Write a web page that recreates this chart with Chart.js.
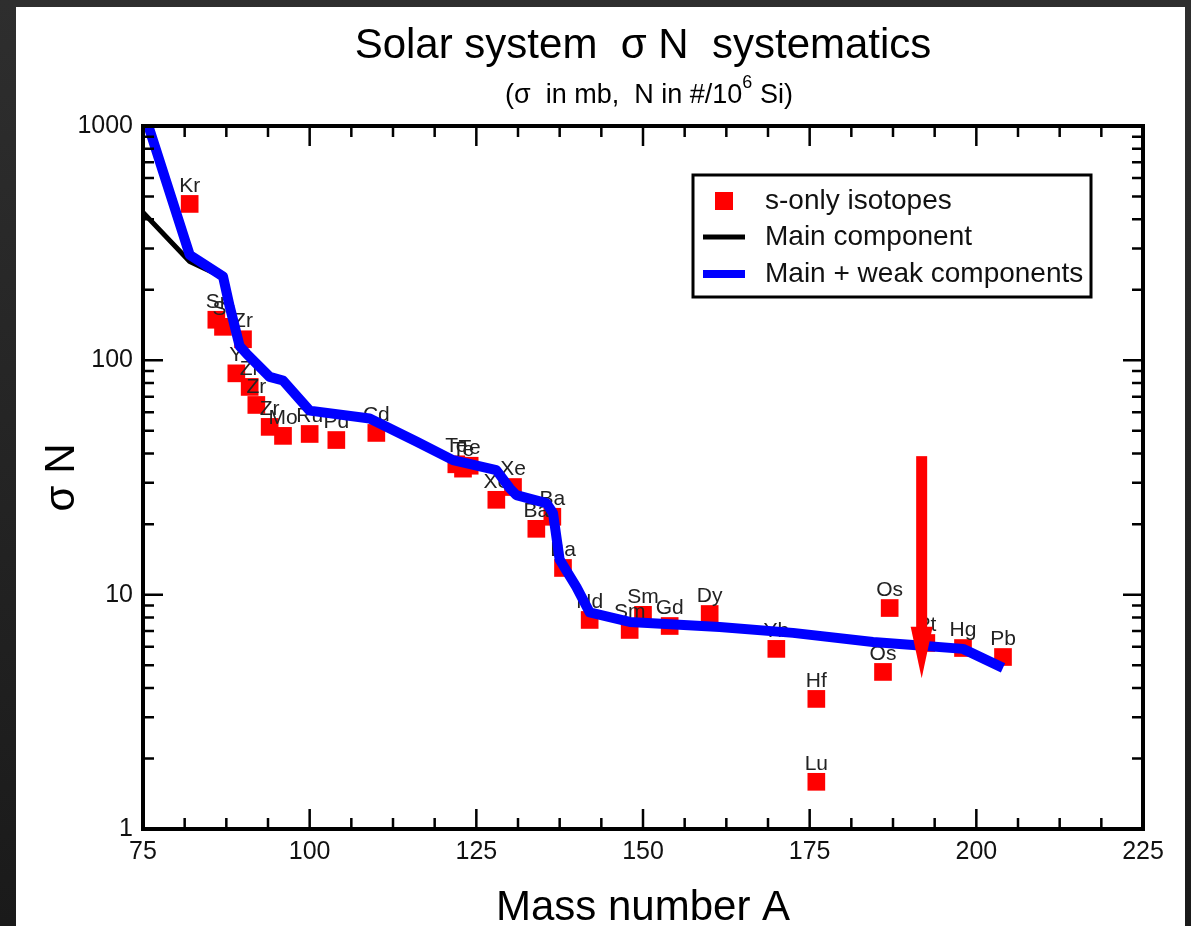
<!DOCTYPE html>
<html>
<head>
<meta charset="utf-8">
<script src="https://cdn.jsdelivr.net/npm/chart.js@4"></script>
<style>
  html, body { margin: 0; padding: 0; width: 1191px; height: 926px; overflow: hidden;
    background: linear-gradient(#2e2e2e, #1a1a1a); }
  #sheet { position: absolute; left: 16px; top: 7px; width: 1169px; height: 919px; background: #fff; }
  #chart { display: block; }
</style>
</head>
<body>
<div id="sheet"><canvas id="chart" width="1169" height="919"></canvas></div>
<script>
// s-only isotopes
const isotopeNames = ['Kr', 'Sr', 'Sr', 'Y', 'Zr', 'Zr', 'Zr', 'Zr', 'Mo', 'Ru', 'Pd', 'Cd',
  'Te', 'Te', 'Te', 'Xe', 'Xe', 'Ba', 'Ba', 'Ba', 'Nd', 'Sm', 'Sm', 'Gd', 'Dy', 'Yb',
  'Hf', 'Lu', 'Os', 'Os', 'Pt', 'Hg', 'Pb'];
const isotopeA = [82, 86, 87, 89, 90, 91, 92, 94, 96, 100, 104, 110,
  122, 123, 124, 128, 130.5, 134, 136.4, 138, 142, 148, 150, 154, 160, 170,
  176, 176, 186, 187, 192.5, 198, 204];
const isotopeSigmaN = [465, 149, 139, 88, 123, 77, 64.5, 52, 47.6, 48.5, 45.7, 49,
  36, 34.5, 35.5, 25.4, 28.8, 19.1, 21.5, 13.0, 7.8, 7.07, 8.2, 7.35, 8.27, 5.87,
  3.59, 1.59, 4.68, 8.77, 6.22, 5.92, 5.42];

// main component curve
const mainA = [75, 82, 87];
const mainSigmaN = [428, 264, 226];

// main + weak components curve
const weakA = [75, 82, 87, 88, 89.5, 90.5, 94, 96, 100, 109, 116, 121.5, 128, 130, 131,
  135.5, 136.5, 137.5, 140, 142, 148, 161.5, 172.5, 184.5, 190.5, 198, 204];
const weakSigmaN = [1180, 282, 228, 170, 115, 107, 85, 82, 61, 56.5, 45, 37.5, 34, 28.5, 26.6,
  24.6, 22.3, 14.1, 10.8, 8.4, 7.65, 7.28, 6.87, 6.28, 6.1, 5.87, 4.87];

// red arrow (A, from sigmaN, head start, tip)
const arrowA = 191.8;
const arrowFrom = 39;
const arrowHeadBase = 7.3;
const arrowTip = 4.4;

const xTickLabels = [75, 100, 125, 150, 175, 200, 225];
const yTickLabels = [1, 10, 100, 1000];

const FONT = '"Liberation Sans", Arial, sans-serif';

const toPoints = (xs, ys) => xs.map((a, i) => ({ x: a, y: ys[i] }));

// labels over the squares, drawn under the lines
const isotopeLabelPlugin = {
  id: 'isotopeLabels',
  afterDatasetDraw(chart, args) {
    if (args.index !== 0) return;
    const ctx = chart.ctx;
    ctx.save();
    ctx.font = '21px ' + FONT;
    ctx.fillStyle = '#222';
    ctx.textAlign = 'center';
    ctx.textBaseline = 'middle';
    args.meta.data.forEach((el, i) => ctx.fillText(isotopeNames[i], el.x, el.y - 18));
    ctx.restore();
  }
};

const arrowPlugin = {
  id: 'arrow',
  afterDatasetsDraw(chart) {
    const { ctx, scales: { x, y } } = chart;
    const px = x.getPixelForValue(arrowA);
    const y0 = y.getPixelForValue(arrowFrom);
    const y1 = y.getPixelForValue(arrowHeadBase);
    const y2 = y.getPixelForValue(arrowTip);
    ctx.save();
    ctx.fillStyle = '#ff0000';
    ctx.fillRect(px - 5.5, y0, 11, y1 - y0 + 1);
    ctx.beginPath();
    ctx.moveTo(px - 11, y1);
    ctx.lineTo(px + 11, y1);
    ctx.lineTo(px, y2);
    ctx.closePath();
    ctx.fill();
    ctx.restore();
  }
};

// frame with inward ticks on all four sides, legend, subtitle
const framePlugin = {
  id: 'frame',
  afterDraw(chart) {
    const { ctx, chartArea: a, scales: { x, y } } = chart;
    ctx.save();
    ctx.strokeStyle = '#000';
    ctx.lineWidth = 2.5;
    ctx.beginPath();
    x.ticks.forEach(t => {
      const px = x.getPixelForValue(t.value);
      const len = t.value % 25 === 0 ? 20 : 11;
      ctx.moveTo(px, a.bottom); ctx.lineTo(px, a.bottom - len);
      ctx.moveTo(px, a.top); ctx.lineTo(px, a.top + len);
    });
    const e0 = Math.round(Math.log10(y.min)), e1 = Math.round(Math.log10(y.max));
    for (let e = e0; e <= e1; e++) {
      for (let k = 1; k <= 9; k++) {
        const v = k * Math.pow(10, e);
        if (v > y.max) break;
        const py = y.getPixelForValue(v);
        const len = k === 1 ? 20 : 11;
        ctx.moveTo(a.left, py); ctx.lineTo(a.left + len, py);
        ctx.moveTo(a.right, py); ctx.lineTo(a.right - len, py);
      }
    }
    ctx.stroke();
    ctx.lineWidth = 4;
    ctx.strokeRect(a.left, a.top, a.width, a.height);

    // legend
    const lw = 398, lh = 122;
    const lx = a.right - 52 - lw, ly = a.top + 49;
    ctx.fillStyle = '#fff';
    ctx.fillRect(lx, ly, lw, lh);
    ctx.lineWidth = 3;
    ctx.strokeRect(lx, ly, lw, lh);
    const ds = chart.data.datasets;
    const rows = [26, 62, 99];
    ctx.fillStyle = ds[0].backgroundColor;
    ctx.fillRect(lx + 22, ly + rows[0] - 9, 18, 18);
    [1, 2].forEach(i => {
      ctx.strokeStyle = ds[i].borderColor;
      ctx.lineWidth = i === 1 ? 5 : 8;
      ctx.beginPath();
      ctx.moveTo(lx + 10, ly + rows[i]);
      ctx.lineTo(lx + 52, ly + rows[i]);
      ctx.stroke();
    });
    ctx.font = '28px ' + FONT;
    ctx.fillStyle = '#111';
    ctx.textBaseline = 'middle';
    ctx.textAlign = 'left';
    ds.forEach((d, i) => ctx.fillText(d.label, lx + 72, ly + rows[i]));

    // subtitle with superscript
    const cx = (a.left + a.right) / 2 + 6, cy = 89;
    const partA = '(σ  in mb,  N in #/10', sup = '6', partB = ' Si)';
    ctx.font = '27px ' + FONT;
    const wA = ctx.measureText(partA).width, wB = ctx.measureText(partB).width;
    ctx.font = '18px ' + FONT;
    const wS = ctx.measureText(sup).width;
    let sx = cx - (wA + wS + wB) / 2;
    ctx.fillStyle = '#000';
    ctx.font = '27px ' + FONT;
    ctx.fillText(partA, sx, cy);
    ctx.font = '18px ' + FONT;
    ctx.fillText(sup, sx + wA, cy - 13);
    ctx.font = '27px ' + FONT;
    ctx.fillText(partB, sx + wA + wS, cy);
    ctx.restore();
  }
};

new Chart(document.getElementById('chart'), {
  type: 'scatter',
  data: {
    datasets: [{
      label: 's-only isotopes',
      data: toPoints(isotopeA, isotopeSigmaN),
      pointStyle: 'rect',
      pointRadius: 12.5,
      backgroundColor: '#ff0000',
      borderWidth: 0,
      order: 3
    }, {
      label: 'Main component',
      data: toPoints(mainA, mainSigmaN),
      showLine: true,
      borderColor: '#000000',
      borderWidth: 5,
      pointRadius: 0,
      borderJoinStyle: 'round',
      order: 2
    }, {
      label: 'Main + weak components',
      data: toPoints(weakA, weakSigmaN),
      showLine: true,
      borderColor: '#0000ff',
      borderWidth: 10,
      pointRadius: 0,
      borderJoinStyle: 'round',
      order: 1
    }]
  },
  options: {
    responsive: false,
    animation: false,
    layout: { padding: { left: 0, right: 42, top: 0, bottom: 0 } },
    plugins: {
      legend: { display: false },
      tooltip: { enabled: false },
      title: {
        display: true,
        fullSize: false,
        text: 'Solar system  σ N  systematics',
        color: '#000',
        font: { family: FONT, size: 42, weight: 'normal', lineHeight: 1.2 },
        padding: { top: 14, bottom: 54.6 }
      }
    },
    scales: {
      x: {
        type: 'linear',
        min: 75,
        max: 225,
        grid: { display: false, drawTicks: false },
        border: { display: false },
        ticks: {
          stepSize: 6.25,
          autoSkip: false,
          maxRotation: 0,
          padding: 8,
          color: '#111',
          font: { family: FONT, size: 25 },
          callback: v => xTickLabels.includes(v) ? String(v) : ''
        },
        title: {
          display: true,
          text: 'Mass number A',
          color: '#000',
          font: { family: FONT, size: 42, lineHeight: 0.86 },
          padding: 0
        },
        afterFit: s => { s.height = 97; }
      },
      y: {
        type: 'logarithmic',
        min: 1,
        max: 1000,
        grid: { display: false, drawTicks: false },
        border: { display: false },
        ticks: {
          autoSkip: false,
          padding: 10,
          color: '#111',
          font: { family: FONT, size: 25 },
          callback: v => yTickLabels.includes(v) ? String(v) : ''
        },
        title: {
          display: true,
          text: 'σ N',
          color: '#000',
          font: { family: FONT, size: 42, lineHeight: 1.2 },
          padding: { top: 21, bottom: 0 }
        },
        afterFit: s => { s.width = 127; }
      }
    }
  },
  plugins: [isotopeLabelPlugin, arrowPlugin, framePlugin]
});
</script>
</body>
</html>
